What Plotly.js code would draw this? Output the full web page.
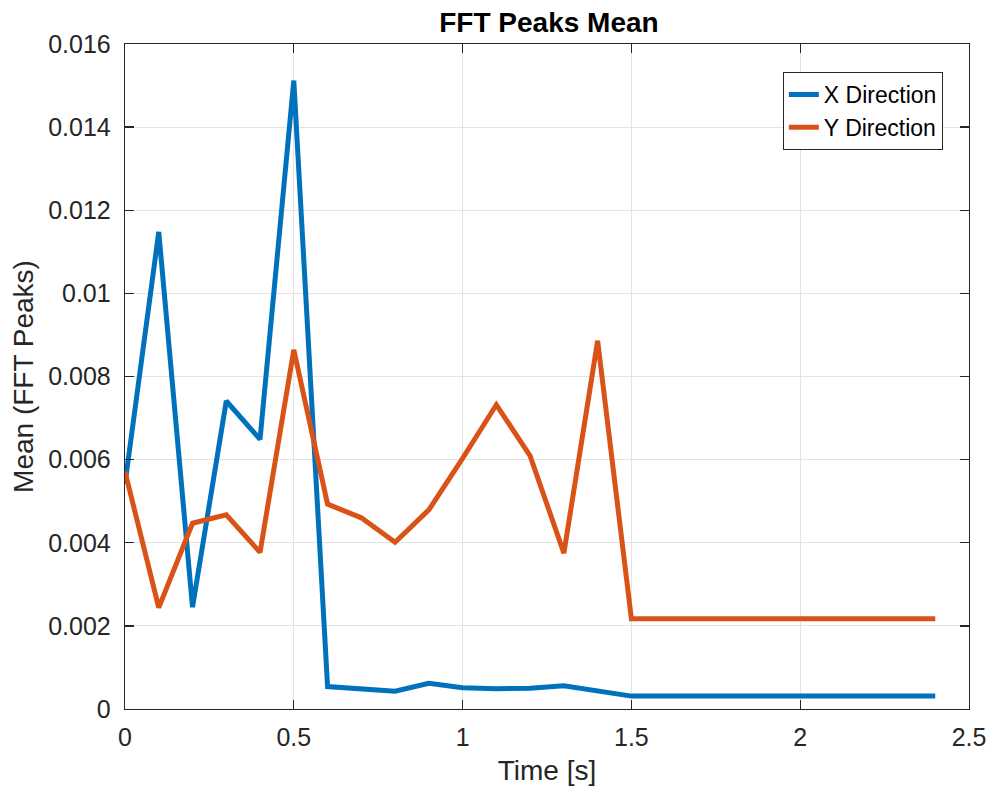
<!DOCTYPE html>
<html>
<head>
<meta charset="utf-8">
<script src="https://cdn.plot.ly/plotly-3.0.1.min.js"></script>
<style>html,body{margin:0;padding:0;background:#fff;}#chart{width:993px;height:798px;}</style>
</head>
<body>
<div id="chart"></div>
<script>
const time = [0, 0.1, 0.2, 0.3, 0.4, 0.5, 0.6, 0.7, 0.8, 0.9, 1.0, 1.1, 1.2, 1.3, 1.4, 1.5, 1.6, 1.7, 1.8, 1.9, 2.0, 2.1, 2.2, 2.3, 2.4];
const xDirection = [0.00542, 0.01148, 0.00245, 0.00741, 0.00649, 0.01512, 0.00054, 0.00047, 0.00043, 0.00062, 0.00051, 0.00049, 0.00050, 0.00056, 0.00043, 0.00031, 0.00031, 0.00031, 0.00031, 0.00031, 0.00031, 0.00031, 0.00031, 0.00031, 0.00031];
const yDirection = [0.00571, 0.00244, 0.00447, 0.00467, 0.00377, 0.00864, 0.00493, 0.00460, 0.00401, 0.00479, 0.00603, 0.00732, 0.00609, 0.00375, 0.00886, 0.00217, 0.00217, 0.00217, 0.00217, 0.00217, 0.00217, 0.00217, 0.00217, 0.00217, 0.00217];
const seriesNames = ["X Direction", "Y Direction"];
const yTickVals = [0, 0.002, 0.004, 0.006, 0.008, 0.01, 0.012, 0.014, 0.016];
const yTickText = ["0", "0.002", "0.004", "0.006", "0.008", "0.01", "0.012", "0.014", "0.016"];
const xTickVals = [0, 0.5, 1, 1.5, 2, 2.5];
const xTickText = ["0", "0.5", "1", "1.5", "2", "2.5"];

const font = "Liberation Sans, Arial, Helvetica, sans-serif";
const axisColor = "#262626";

const traces = [
  {x: time, y: xDirection, name: seriesNames[0], type: "scatter", mode: "lines",
   line: {color: "#0072BD", width: 5}},
  {x: time, y: yDirection, name: seriesNames[1], type: "scatter", mode: "lines",
   line: {color: "#D95319", width: 5}}
];

const axisCommon = {
  showline: true, linecolor: axisColor, linewidth: 1.3, mirror: "ticks",
  ticks: "inside", ticklen: 9, tickcolor: axisColor, tickwidth: 1.3,
  showgrid: true, gridcolor: "#e3e3e3", gridwidth: 1, zeroline: false,
  tickfont: {family: font, size: 25, color: axisColor},
  tickmode: "array"
};

const layout = {
  width: 993, height: 798,
  margin: {l: 125, r: 24, t: 44, b: 89},
  paper_bgcolor: "#ffffff", plot_bgcolor: "#ffffff",
  font: {family: font, color: axisColor},
  title: {text: "<b>FFT Peaks Mean</b>", font: {family: font, size: 28, color: "#000"},
          x: 0.5528, xanchor: "center", y: 0.972, yanchor: "middle"},
  xaxis: Object.assign({}, axisCommon, {
    range: [0, 2.5], tickvals: xTickVals, ticktext: xTickText, ticklabelstandoff: 6,
    title: {text: "Time [s]", font: {family: font, size: 28, color: axisColor}, standoff: 10}
  }),
  yaxis: Object.assign({}, axisCommon, {
    range: [0, 0.016], tickvals: yTickVals, ticktext: yTickText, ticklabelstandoff: 8,
    title: {text: "Mean (FFT Peaks)", font: {family: font, size: 28, color: axisColor}, standoff: 6}
  }),
  showlegend: true,
  legend: {
    x: 0.969, xanchor: "right", y: 0.958, yanchor: "top",
    bgcolor: "#ffffff", bordercolor: axisColor, borderwidth: 1,
    font: {family: font, size: 23, color: "#000"},
    tracegroupgap: 0
  }
};

Plotly.newPlot("chart", traces, layout, {staticPlot: true, displayModeBar: false});
</script>
</body>
</html>
